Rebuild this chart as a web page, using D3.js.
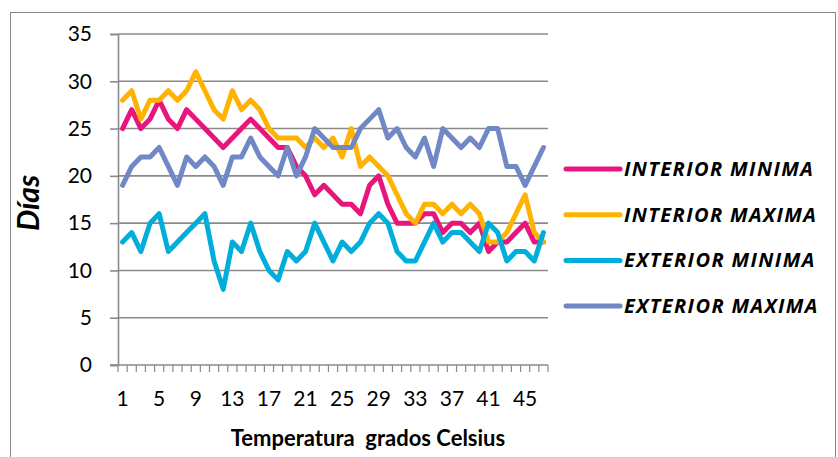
<!DOCTYPE html>
<meta charset="utf-8">
<script src="https://d3js.org/d3.v7.min.js"></script>
<style>
  body { margin: 0; background: #fff; }
  text { font-family: Lato, "Open Sans", sans-serif; fill: #000; }
</style>
<div id="chart"></div>
<script>

// temperature categories 1..47
var temps = d3.range(1, 48);
var tickLabels = [1, 5, 9, 13, 17, 21, 25, 29, 33, 37, 41, 45];
var yTicks = [0, 5, 10, 15, 20, 25, 30, 35];

var seriesNames = ["INTERIOR MINIMA", "INTERIOR MAXIMA", "EXTERIOR MINIMA", "EXTERIOR MAXIMA"];
var seriesColors = ["#e8157c", "#ffb300", "#00aedb", "#7088c6"];

var interiorMin = [25, 27, 25, 26, 28, 26, 25, 27, 26, 25, 24, 23,
                   24, 25, 26, 25, 24, 23, 23, 21, 20, 18, 19, 18,
                   17, 17, 16, 19, 20, 17, 15, 15, 15, 16, 16,
                   14, 15, 15, 14, 15, 12, 13, 13, 14, 15, 13, 13];
var interiorMax = [28, 29, 26, 28, 28, 29, 28, 29, 31, 29, 27, 26,
                   29, 27, 28, 27, 25, 24, 24, 24, 23, 24, 23, 24,
                   22, 25, 21, 22, 21, 20, 18, 16, 15, 17, 17,
                   16, 17, 16, 17, 16, 13, 13, 14, 16, 18, 14, 13];
var exteriorMin = [13, 14, 12, 15, 16, 12, 13, 14, 15, 16, 11, 8,
                   13, 12, 15, 12, 10, 9, 12, 11, 12, 15, 13, 11,
                   13, 12, 13, 15, 16, 15, 12, 11, 11, 13, 15,
                   13, 14, 14, 13, 12, 15, 14, 11, 12, 12, 11, 14];
var exteriorMax = [19, 21, 22, 22, 23, 21, 19, 22, 21, 22, 21, 19,
                   22, 22, 24, 22, 21, 20, 23, 20, 22, 25, 24, 23,
                   23, 23, 25, 26, 27, 24, 25, 23, 22, 24, 21,
                   25, 24, 23, 24, 23, 25, 25, 21, 21, 19, 21, 23];

var allSeries = [interiorMin, interiorMax, exteriorMin, exteriorMax];

var W = 838, H = 457;
var plot = {left: 118, right: 548, top: 34, bottom: 365};

var svg = d3.select("#chart")
  .append("svg")
    .attr("width", W)
    .attr("height", H);

// outer chart border
svg.append("rect")
  .attr("x", 10.5).attr("y", 12.5)
  .attr("width", 825).attr("height", 470)
  .attr("fill", "none")
  .attr("stroke", "#868686");

var x = d3.scaleBand()
  .domain(temps)
  .range([plot.left, plot.right])
  .paddingInner(0).paddingOuter(0);

var y = d3.scaleLinear()
  .domain([0, 35])
  .range([plot.bottom, plot.top]);

// horizontal gridlines
svg.append("g")
  .selectAll("line")
  .data(yTicks.filter(function(d) { return d > 0; }))
  .enter().append("line")
    .attr("x1", plot.left).attr("x2", plot.right)
    .attr("y1", function(d) { return y(d); })
    .attr("y2", function(d) { return y(d); })
    .attr("stroke", "#8a8a8a")
    .attr("stroke-width", 1.6);

// Y axis
var yAxis = svg.append("g")
  .attr("transform", "translate(" + plot.left + ",0)")
  .call(d3.axisLeft(y).tickValues(yTicks).tickSize(8).tickPadding(18));
yAxis.selectAll("line, path").attr("stroke", "#8a8a8a").attr("stroke-width", 1.6);
yAxis.selectAll("text")
  .style("font-size", "21px")
  .style("font-family", "Lato, sans-serif");

// X axis: small ticks at each category boundary
svg.append("g")
  .selectAll("line")
  .data(temps.concat(["end"]))
  .enter().append("line")
    .attr("x1", function(d) { return d === "end" ? x.range()[1] : x(d); })
    .attr("x2", function(d) { return d === "end" ? x.range()[1] : x(d); })
    .attr("y1", plot.bottom)
    .attr("y2", plot.bottom + 7)
    .attr("stroke", "#8a8a8a")
    .attr("stroke-width", 1.2);

svg.append("line")
  .attr("x1", plot.left - 8).attr("x2", plot.right)
  .attr("y1", plot.bottom).attr("y2", plot.bottom)
  .attr("stroke", "#8a8a8a")
  .attr("stroke-width", 1.6);

var xAxis = svg.append("g")
  .attr("transform", "translate(0," + plot.bottom + ")")
  .call(d3.axisBottom(x).tickValues(tickLabels).tickSize(0).tickPadding(26));
xAxis.select(".domain").remove();
xAxis.selectAll("text")
  .style("font-size", "21px")
  .style("font-family", "Lato, sans-serif");

// axis titles
svg.append("text")
  .attr("x", 368)
  .attr("y", 446)
  .attr("text-anchor", "middle")
  .style("font-size", "22px")
  .style("font-weight", "bold")
  .style("white-space", "pre")
  .text("Temperatura  grados Celsius");

svg.append("text")
  .attr("transform", "translate(39,203) rotate(-90)")
  .attr("text-anchor", "middle")
  .style("font-size", "30px")
  .style("font-weight", "bold")
  .style("font-style", "italic")
  .text("Días");

// lines
var line = d3.line()
  .x(function(d, i) { return x(temps[i]) + x.bandwidth() / 2; })
  .y(function(d) { return y(d); });

svg.append("g")
  .selectAll("path")
  .data(allSeries)
  .enter().append("path")
    .attr("d", line)
    .attr("fill", "none")
    .attr("stroke", function(d, i) { return seriesColors[i]; })
    .attr("stroke-width", 5)
    .attr("stroke-linejoin", "round")
    .attr("stroke-linecap", "round");

// legend
var legend = svg.append("g")
  .selectAll("g")
  .data(seriesNames)
  .enter().append("g")
    .attr("transform", function(d, i) { return "translate(566," + (169 + i * 45.7) + ")"; });

legend.append("line")
  .attr("x1", 0).attr("x2", 54)
  .attr("stroke", function(d, i) { return seriesColors[i]; })
  .attr("stroke-width", 5)
  .attr("stroke-linecap", "round");

legend.append("text")
  .attr("x", 58)
  .attr("y", 7)
  .style("font-size", "20px")
  .style("letter-spacing", "1.4px")
  .style("font-family", "'Open Sans', sans-serif")
  .style("font-weight", "bold")
  .style("font-style", "italic")
  .text(function(d) { return d; });

</script>
